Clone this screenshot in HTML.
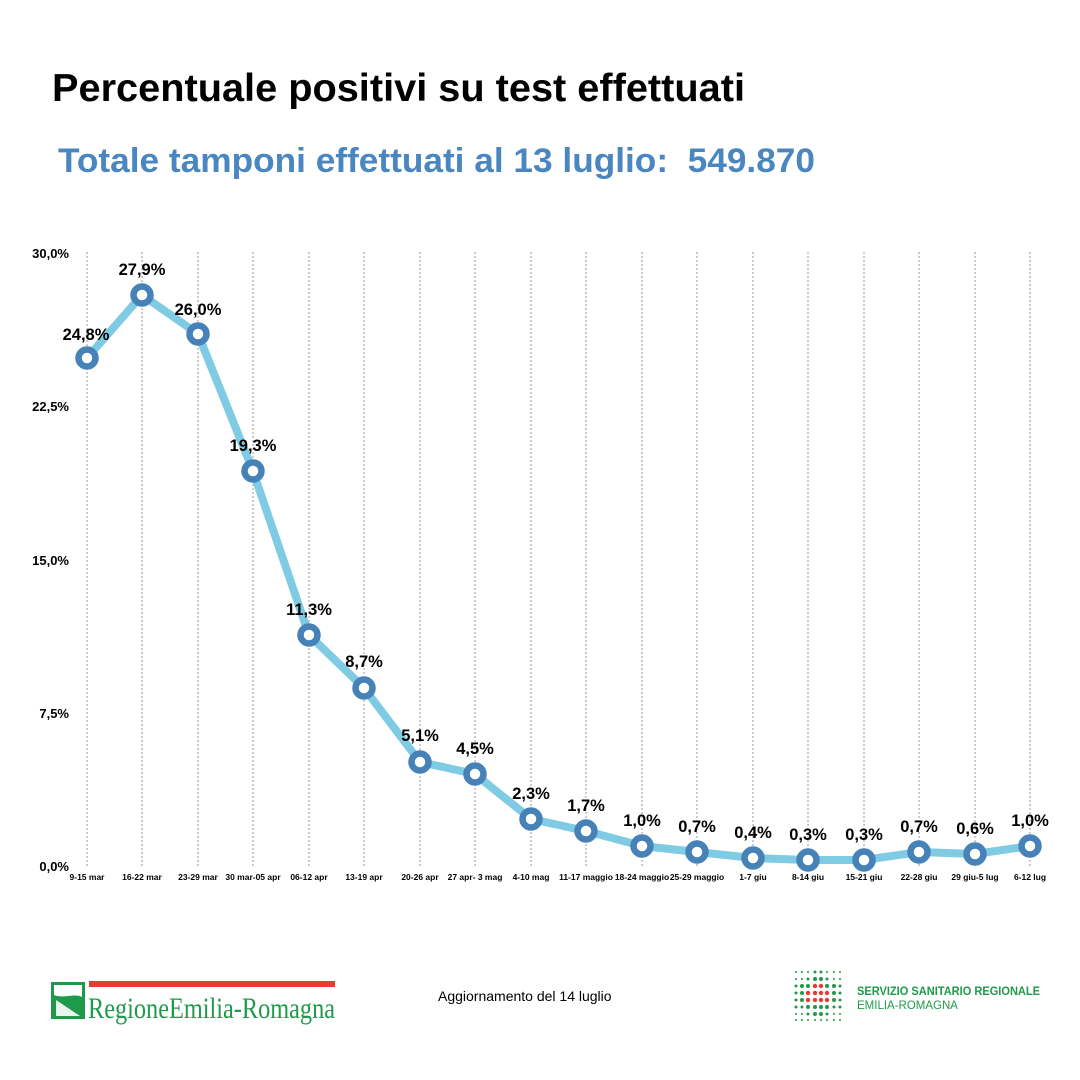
<!DOCTYPE html>
<html><head><meta charset="utf-8"><style>
html,body{margin:0;padding:0;background:#fff;width:1080px;height:1080px;overflow:hidden}
</style></head><body>
<svg width="1080" height="1080" viewBox="0 0 1080 1080" xmlns="http://www.w3.org/2000/svg" font-family="Liberation Sans, sans-serif">
<rect width="1080" height="1080" fill="#fff"/>
<text x="52" y="101" font-size="39" font-weight="bold" fill="#000" textLength="693" lengthAdjust="spacingAndGlyphs">Percentuale positivi su test effettuati</text>
<text x="58" y="172" font-size="34" font-weight="bold" fill="#4a86bf" textLength="757" lengthAdjust="spacingAndGlyphs" xml:space="preserve">Totale tamponi effettuati al 13 luglio:  549.870</text>
<g stroke="#999" stroke-width="1" stroke-dasharray="2,2">
<line x1="87" y1="252" x2="87" y2="866"/><line x1="142" y1="252" x2="142" y2="866"/><line x1="198" y1="252" x2="198" y2="866"/><line x1="253" y1="252" x2="253" y2="866"/><line x1="309" y1="252" x2="309" y2="866"/><line x1="364" y1="252" x2="364" y2="866"/><line x1="420" y1="252" x2="420" y2="866"/><line x1="475" y1="252" x2="475" y2="866"/><line x1="531" y1="252" x2="531" y2="866"/><line x1="586" y1="252" x2="586" y2="866"/><line x1="642" y1="252" x2="642" y2="866"/><line x1="697" y1="252" x2="697" y2="866"/><line x1="753" y1="252" x2="753" y2="866"/><line x1="808" y1="252" x2="808" y2="866"/><line x1="864" y1="252" x2="864" y2="866"/><line x1="919" y1="252" x2="919" y2="866"/><line x1="975" y1="252" x2="975" y2="866"/><line x1="1030" y1="252" x2="1030" y2="866"/>
</g>
<g font-size="13" font-weight="bold" text-anchor="end" fill="#000">
<text x="69" y="258">30,0%</text><text x="69" y="411">22,5%</text><text x="69" y="565">15,0%</text><text x="69" y="718">7,5%</text><text x="69" y="871">0,0%</text>
</g>
<g font-size="8.5" font-weight="bold" text-anchor="middle" fill="#000">
<text x="87" y="880">9-15 mar</text><text x="142" y="880">16-22 mar</text><text x="198" y="880">23-29 mar</text><text x="253" y="880">30 mar-05 apr</text><text x="309" y="880">06-12 apr</text><text x="364" y="880">13-19 apr</text><text x="420" y="880">20-26 apr</text><text x="475" y="880">27 apr- 3 mag</text><text x="531" y="880">4-10 mag</text><text x="586" y="880">11-17 maggio</text><text x="642" y="880">18-24 maggio</text><text x="697" y="880">25-29 maggio</text><text x="753" y="880">1-7 giu</text><text x="808" y="880">8-14 giu</text><text x="864" y="880">15-21 giu</text><text x="919" y="880">22-28 giu</text><text x="975" y="880">29 giu-5 lug</text><text x="1030" y="880">6-12 lug</text>
</g>
<polyline fill="none" stroke="#7ecbe3" stroke-width="8" stroke-linejoin="round" points="87,358 142,295 198,334 253,471 309,635 364,688 420,762 475,774 531,819 586,831 642,846 697,852 753,858 808,860 864,860 919,852 975,854 1030,846"/>
<g fill="#fff" stroke="#4682b8" stroke-width="6.5">
<circle cx="87" cy="358" r="8.5"/><circle cx="142" cy="295" r="8.5"/><circle cx="198" cy="334" r="8.5"/><circle cx="253" cy="471" r="8.5"/><circle cx="309" cy="635" r="8.5"/><circle cx="364" cy="688" r="8.5"/><circle cx="420" cy="762" r="8.5"/><circle cx="475" cy="774" r="8.5"/><circle cx="531" cy="819" r="8.5"/><circle cx="586" cy="831" r="8.5"/><circle cx="642" cy="846" r="8.5"/><circle cx="697" cy="852" r="8.5"/><circle cx="753" cy="858" r="8.5"/><circle cx="808" cy="860" r="8.5"/><circle cx="864" cy="860" r="8.5"/><circle cx="919" cy="852" r="8.5"/><circle cx="975" cy="854" r="8.5"/><circle cx="1030" cy="846" r="8.5"/>
</g>
<g font-size="16.5" font-weight="bold" text-anchor="middle" fill="#000">
<text x="86" y="340">24,8%</text><text x="142" y="275">27,9%</text><text x="198" y="315">26,0%</text><text x="253" y="451">19,3%</text><text x="309" y="615">11,3%</text><text x="364" y="667">8,7%</text><text x="420" y="741">5,1%</text><text x="475" y="754">4,5%</text><text x="531" y="799">2,3%</text><text x="586" y="811">1,7%</text><text x="642" y="826">1,0%</text><text x="697" y="832">0,7%</text><text x="753" y="838">0,4%</text><text x="808" y="840">0,3%</text><text x="864" y="840">0,3%</text><text x="919" y="832">0,7%</text><text x="975" y="834">0,6%</text><text x="1030" y="826">1,0%</text>
</g>
<rect x="51" y="982" width="34" height="37" fill="#1f9a4a"/>
<path d="M54,985 h28 v12 c-8,-4 -18,2 -28,-2 z" fill="#fff"/>
<path d="M56,1000 l24,16 h-24 z" fill="#fff" opacity="0.9"/>
<rect x="89" y="981" width="246" height="6" fill="#e63b2e"/>
<text x="88" y="1018" font-family="Liberation Serif, serif" font-size="30" fill="#1f9a4a" textLength="247" lengthAdjust="spacingAndGlyphs">RegioneEmilia-Romagna</text>
<text x="438" y="1001" font-size="14" fill="#000">Aggiornamento del 14 luglio</text>
<g fill="#1f9a4a">
<circle cx="796" cy="972" r="1"/><circle cx="802" cy="972" r="1"/><circle cx="808" cy="972" r="1"/><circle cx="815" cy="972" r="1.5"/><circle cx="821" cy="972" r="1.5"/><circle cx="827" cy="972" r="1"/><circle cx="834" cy="972" r="1"/><circle cx="840" cy="972" r="1"/>
<circle cx="796" cy="979" r="1"/><circle cx="802" cy="979" r="1"/><circle cx="808" cy="979" r="1.5"/><circle cx="815" cy="979" r="2"/><circle cx="821" cy="979" r="2"/><circle cx="827" cy="979" r="1.5"/><circle cx="834" cy="979" r="1"/><circle cx="840" cy="979" r="1"/>
<circle cx="796" cy="986" r="1.5"/><circle cx="802" cy="986" r="2"/><circle cx="808" cy="986" r="2"/><circle cx="827" cy="986" r="2"/><circle cx="834" cy="986" r="2"/><circle cx="840" cy="986" r="1.5"/>
<circle cx="796" cy="993" r="1.5"/><circle cx="802" cy="993" r="2"/><circle cx="834" cy="993" r="2"/><circle cx="840" cy="993" r="1.5"/>
<circle cx="796" cy="1000" r="1.5"/><circle cx="802" cy="1000" r="2"/><circle cx="834" cy="1000" r="2"/><circle cx="840" cy="1000" r="1.5"/>
<circle cx="796" cy="1007" r="1.5"/><circle cx="802" cy="1007" r="1.5"/><circle cx="808" cy="1007" r="2"/><circle cx="815" cy="1007" r="2"/><circle cx="821" cy="1007" r="2"/><circle cx="827" cy="1007" r="2"/><circle cx="834" cy="1007" r="1.5"/><circle cx="840" cy="1007" r="1.5"/>
<circle cx="796" cy="1014" r="1"/><circle cx="802" cy="1014" r="1"/><circle cx="808" cy="1014" r="1.5"/><circle cx="815" cy="1014" r="2"/><circle cx="821" cy="1014" r="2"/><circle cx="827" cy="1014" r="1.5"/><circle cx="834" cy="1014" r="1"/><circle cx="840" cy="1014" r="1"/>
<circle cx="796" cy="1020" r="1"/><circle cx="802" cy="1020" r="1"/><circle cx="808" cy="1020" r="1"/><circle cx="815" cy="1020" r="1"/><circle cx="821" cy="1020" r="1"/><circle cx="827" cy="1020" r="1"/><circle cx="834" cy="1020" r="1"/><circle cx="840" cy="1020" r="1"/>
</g>
<g fill="#e63b2e">
<circle cx="815" cy="986" r="2.2"/><circle cx="821" cy="986" r="2.2"/>
<circle cx="808" cy="993" r="2.2"/><circle cx="815" cy="993" r="2.2"/><circle cx="821" cy="993" r="2.2"/><circle cx="827" cy="993" r="2.2"/>
<circle cx="808" cy="1000" r="2.2"/><circle cx="815" cy="1000" r="2.2"/><circle cx="821" cy="1000" r="2.2"/><circle cx="827" cy="1000" r="2.2"/>
</g>
<text x="857" y="995" font-size="11.5" font-weight="bold" fill="#1f9a4a" textLength="183" lengthAdjust="spacingAndGlyphs">SERVIZIO SANITARIO REGIONALE</text>
<text x="857" y="1009" font-size="11.5" fill="#1f9a4a">EMILIA-ROMAGNA</text>
</svg>
</body></html>
